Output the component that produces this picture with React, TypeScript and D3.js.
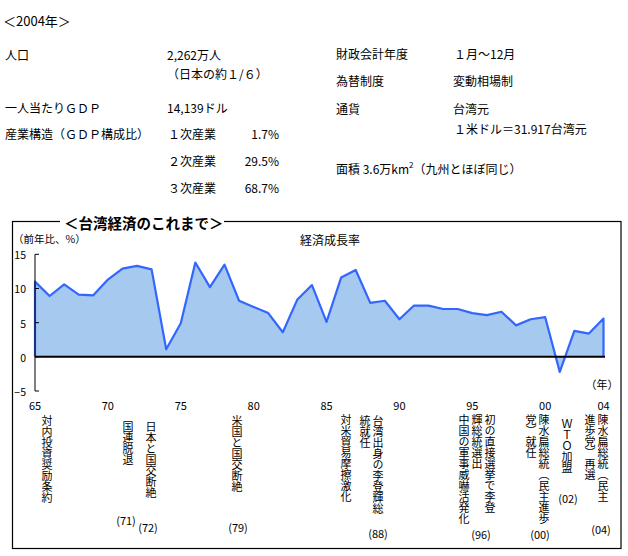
import React from "react";
import * as d3 from "d3";

// 経済成長率 (前年比 %), 1965-2004
const years = [
  1965, 1966, 1967, 1968, 1969, 1970, 1971, 1972, 1973, 1974,
  1975, 1976, 1977, 1978, 1979, 1980, 1981, 1982, 1983, 1984,
  1985, 1986, 1987, 1988, 1989, 1990, 1991, 1992, 1993, 1994,
  1995, 1996, 1997, 1998, 1999, 2000, 2001, 2002, 2003, 2004,
];
const growth = [
  11.0, 8.9, 10.6, 9.1, 9.0, 11.3, 12.9, 13.3, 12.8, 1.1,
  4.9, 13.8, 10.2, 13.5, 8.2, 7.3, 6.4, 3.6, 8.4, 10.5,
  5.1, 11.6, 12.7, 7.9, 8.2, 5.5, 7.5, 7.5, 7.0, 7.0,
  6.4, 6.1, 6.6, 4.6, 5.5, 5.8, -2.2, 3.8, 3.4, 5.6,
];
const yTicks = [15, 10, 5, 0, -5];
const xTickYears = [1965, 1970, 1975, 1980, 1985, 1990, 1995, 2000, 2004];
const xTickLabels = ["65", "70", "75", "80", "85", "90", "95", "00", "04"];

// 出来事 (縦書き、右の列から)
const eventColumns = [
  ["対内投資奨励条約"],
  ["国連脱退"],
  ["日本と国交断絶"],
  ["米国と国交断絶"],
  ["対米貿易摩擦激化"],
  ["台湾出身の李登輝総", "統就任"],
  ["初の直接選挙で李登", "輝総統選出", "中国の軍事威嚇活発化"],
  ["陳水扁総統（民主進歩", "党）就任"],
  ["ＷＴＯ加盟"],
  ["陳水扁総統（民主", "進歩党）再選"],
];
const eventLabels = ["", "(71)", "(72)", "(79)", "", "(88)", "(96)", "(00)", "(02)", "(04)"];

// layout of the event columns (right column x, top, label x / y)
const eventLayout = [
  { x: 47, top: 415, lx: 0, ly: 0 },
  { x: 128, top: 421, lx: 126, ly: 520 },
  { x: 151, top: 421, lx: 148, ly: 527 },
  { x: 237, top: 415, lx: 238, ly: 527 },
  { x: 346, top: 414, lx: 0, ly: 0 },
  { x: 378, top: 415, lx: 378, ly: 533 },
  { x: 490, top: 414, lx: 481, ly: 534 },
  { x: 544, top: 414, lx: 540, ly: 534 },
  { x: 567, top: 418, lx: 568, ly: 498 },
  { x: 603, top: 414, lx: 601, ly: 529 },
];

const font = "'Noto Sans CJK JP', 'Noto Sans', sans-serif";

const App = () => {
  const width = 628;
  const height = 556;

  const x = d3.scaleLinear().domain([1965, 2004]).range([35, 603.5]);
  const y = d3.scaleLinear().domain([-5, 15]).range([391, 254.3]);

  const pts = years.map((yr, i) => ({ yr, v: growth[i] }));

  const area = d3
    .area<{ yr: number; v: number }>()
    .x((d) => x(d.yr))
    .y0(y(0))
    .y1((d) => y(d.v));

  const line = d3
    .line<{ yr: number; v: number }>()
    .x((d) => x(d.yr))
    .y((d) => y(d.v));

  const linePts = [{ yr: years[0], v: 0 }, ...pts, { yr: years[years.length - 1], v: 0 }];

  const fs = 12;
  const T = (props: any) => (
    <text fontFamily={font} fontSize={fs} fill="#000" dominantBaseline="central" {...props} />
  );

  return (
    <svg
      width={width}
      height={height}
      style={{ position: "absolute", left: 0, top: 0, background: "#fff" }}
    >
      <rect width={width} height={height} fill="#fff" />

      {/* 概要 */}
      <T x={3} y={20} fontSize={13}>＜2004年＞</T>
      <T x={5} y={54}>人口</T>
      <T x={167} y={54}>2,262万人</T>
      <T x={167} y={73}>（日本の約１/６）</T>
      <T x={5} y={107}>一人当たりＧＤＰ</T>
      <T x={167} y={107}>14,139ドル</T>
      <T x={5} y={133}>産業構造（ＧＤＰ構成比）</T>
      <T x={168} y={133}>１次産業</T>
      <T x={279} y={133} textAnchor="end">1.7%</T>
      <T x={168} y={160}>２次産業</T>
      <T x={279} y={160} textAnchor="end">29.5%</T>
      <T x={168} y={187}>３次産業</T>
      <T x={279} y={187} textAnchor="end">68.7%</T>

      <T x={336} y={53}>財政会計年度</T>
      <T x={454} y={53}>１月～12月</T>
      <T x={336} y={80}>為替制度</T>
      <T x={453} y={80}>変動相場制</T>
      <T x={336} y={108}>通貨</T>
      <T x={453} y={108}>台湾元</T>
      <T x={454} y={128}>１米ドル＝31.917台湾元</T>
      <T x={336} y={168}>
        面積 3.6万km<tspan fontSize={8} dy={-4}>2</tspan>
        <tspan dy={4}>（九州とほぼ同じ）</tspan>
      </T>

      {/* 枠 */}
      <rect x={12.5} y={221.5} width={608.5} height={327} fill="none" stroke="#000" strokeWidth={1.2} />
      <rect x={60} y={212} width={164} height={20} fill="#fff" />
      <T x={64} y={222} fontSize={14.5} fontWeight="bold">＜台湾経済のこれまで＞</T>

      <T x={13} y={238.5} fontSize={10.5}>（前年比、%）</T>
      <T x={330} y={239} textAnchor="middle" fontSize={12}>経済成長率</T>
      <T x={602} y={384} textAnchor="middle" fontSize={11}>（年）</T>

      {/* グラフ */}
      <path d={area(pts) || ""} fill="#a6c9ef" />
      <path d={line(linePts) || ""} fill="none" stroke="#3366ff" strokeWidth={2.2} strokeLinejoin="round" />
      <line x1={x(1965)} x2={x(2004) + 1.5} y1={y(0)} y2={y(0)} stroke="#000" strokeWidth={2} />

      <line x1={35} x2={35} y1={y(15)} y2={y(-5)} stroke="#000" strokeWidth={1} />
      {yTicks.map((t) => (
        <g key={t}>
          <line x1={35} x2={39} y1={y(t)} y2={y(t)} stroke="#000" />
          <T x={26} y={y(t) + 0.5} textAnchor="end" fontSize={10.5}>
            {t < 0 ? "−" + Math.abs(t) : t}
          </T>
        </g>
      ))}
      {xTickYears.map((yr, i) => (
        <T key={yr} x={x(yr)} y={405} textAnchor="middle" fontSize={11}>
          {xTickLabels[i]}
        </T>
      ))}

      {/* 出来事 */}
      {eventColumns.map((cols, i) => {
        const L = eventLayout[i];
        return (
          <g key={i}>
            {cols.map((col, c) => (
              <text
                key={c}
                x={L.x - c * 13}
                y={L.top}
                fontFamily={font}
                fontSize={11}
                fill="#000"
                style={{ writingMode: "vertical-rl" }}
              >
                {col}
              </text>
            ))}
            {eventLabels[i] && (
              <T x={L.lx} y={L.ly} textAnchor="middle" fontSize={11}>
                {eventLabels[i]}
              </T>
            )}
          </g>
        );
      })}
    </svg>
  );
};

export default App;
